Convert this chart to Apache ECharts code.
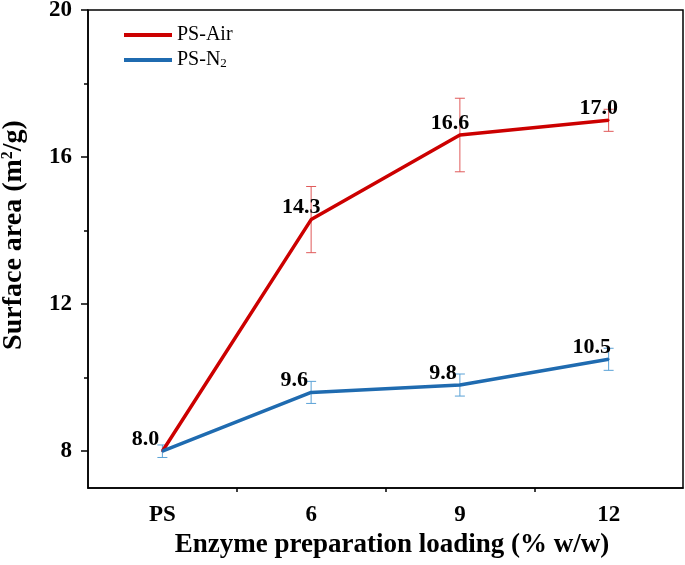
<!DOCTYPE html>
<html>
<head>
<meta charset="utf-8">
<script src="https://cdn.jsdelivr.net/npm/echarts@6/dist/echarts.min.js"></script>
<style>
  html, body { margin: 0; padding: 0; background: #fff; }
  #chart { width: 685px; height: 565px; }
</style>
</head>
<body>
<div id="chart"></div>
<script>
// data
const categories = ['PS', '6', '9', '12'];
const airValues = [8.0, 14.3, 16.6, 17.0];
const airErrors = [0, 0.9, 1.0, 0.3];
const n2Values = [8.0, 9.6, 9.8, 10.5];
const n2Errors = [0.17, 0.3, 0.3, 0.3];
const yTicks = [8, 12, 16, 20];
const yMinorTicks = [10, 14, 18];
const xMinorTicks = [0.5, 1.5, 2.5]; // between categories

const FONT = 'Liberation Serif';
const RED = '#CC0000';
const BLUE = '#1F6BB0';
const RED_ERR = '#E05A5A';
const BLUE_ERR = '#5AA2D6';

const chart = echarts.init(document.getElementById('chart'));

function errorBars(name, values, errors, color) {
  return {
    type: 'custom',
    name: name,
    xAxisIndex: 0,
    yAxisIndex: 0,
    silent: true,
    z: 1,
    data: values.map((v, i) => [i, v - errors[i], v + errors[i]]).filter((d, i) => errors[i] > 0),
    renderItem: function (params, api) {
      const lo = api.coord([api.value(0), api.value(1)]);
      const hi = api.coord([api.value(0), api.value(2)]);
      const w = 5;
      const st = { stroke: color, lineWidth: 1 };
      return {
        type: 'group',
        children: [
          { type: 'line', shape: { x1: lo[0], y1: lo[1], x2: hi[0], y2: hi[1] }, style: st },
          { type: 'line', shape: { x1: lo[0] - w, y1: lo[1], x2: lo[0] + w, y2: lo[1] }, style: st },
          { type: 'line', shape: { x1: hi[0] - w, y1: hi[1], x2: hi[0] + w, y2: hi[1] }, style: st }
        ]
      };
    }
  };
}

const labelStyle = {
  show: true,
  position: 'top',
  distance: 0,
  fontFamily: FONT,
  fontSize: 22,
  fontWeight: 'bold',
  color: '#000'
};

chart.setOption({
  backgroundColor: '#fff',
  animation: false,
  grid: {
    left: 88, top: 10, right: 2, bottom: 77,
    outerBoundsMode: 'none',
    containLabel: false,
    show: true, borderColor: '#000', borderWidth: 1.5
  },
  legend: {
    data: ['PS-Air', 'PS-N2'],
    orient: 'vertical',
    left: 119,
    top: 20,
    icon: 'rect',
    itemWidth: 48,
    itemHeight: 4,
    itemGap: 5,
    formatter: name => name === 'PS-N2' ? 'PS-N{sub|2}' : name,
    textStyle: {
      fontFamily: FONT, fontSize: 20, color: '#000',
      rich: {
        sub: { fontFamily: FONT, fontSize: 13, color: '#000', verticalAlign: 'bottom', padding: [8, 0, 0, 0] }
      }
    }
  },
  xAxis: [{
    type: 'category',
    data: categories,
    boundaryGap: true,
    name: 'Enzyme preparation loading (% w/w)',
    nameLocation: 'middle',
    nameGap: 41,
    nameTextStyle: { fontFamily: FONT, fontSize: 27, fontWeight: 'bold', color: '#000', padding: [0, 0, 0, 13] },
    axisLine: { onZero: false, lineStyle: { color: '#000', width: 1.5 } },
    axisTick: { alignWithLabel: true, length: 7, lineStyle: { color: '#000', width: 1.5 } },
    axisLabel: { fontFamily: FONT, fontSize: 23, fontWeight: 'bold', color: '#000', margin: 16 },
    splitLine: { show: false }
  }, {
    type: 'value',
    min: -0.5,
    max: 3.5,
    position: 'bottom',
    axisLine: { show: false, onZero: false },
    axisTick: { show: true, customValues: xMinorTicks, length: 4, lineStyle: { color: '#000', width: 1.5 } },
    axisLabel: { show: false },
    splitLine: { show: false }
  }],
  yAxis: [{
    type: 'value',
    min: 7,
    max: 20,
    name: 'Surface area (m{sup|2}/g)',
    nameLocation: 'middle',
    nameGap: 60,
    nameTextStyle: {
      fontFamily: FONT, fontSize: 28, fontWeight: 'bold', color: '#000',
      padding: [0, 0, 0, 28],
      rich: { sup: { fontFamily: FONT, fontSize: 16, fontWeight: 'bold', color: '#000', verticalAlign: 'top', padding: [0, 0, 10, 0] } }
    },
    axisLine: { show: true, onZero: false, lineStyle: { color: '#000', width: 1.5 } },
    axisTick: { show: true, customValues: yTicks, length: 7, lineStyle: { color: '#000', width: 1.5 } },
    axisLabel: { customValues: yTicks, fontFamily: FONT, fontSize: 23, fontWeight: 'bold', color: '#000', margin: 16 },
    splitLine: { show: false }
  }, {
    type: 'value',
    min: 7,
    max: 20,
    position: 'left',
    axisLine: { show: false, onZero: false },
    axisTick: { show: true, customValues: yMinorTicks, length: 4, lineStyle: { color: '#000', width: 1.5 } },
    axisLabel: { show: false },
    splitLine: { show: false }
  }],
  series: [
    errorBars('PS-Air err', airValues, airErrors, RED_ERR),
    errorBars('PS-N2 err', n2Values, n2Errors, BLUE_ERR),
    {
      name: 'PS-Air',
      type: 'line',
      data: airValues,
      symbol: 'circle',
      symbolSize: 2,
      showSymbol: true,
      z: 2,
      lineStyle: { color: RED, width: 3.5 },
      itemStyle: { color: RED },
      label: Object.assign({}, labelStyle, {
        offset: [-10, 0],
        formatter: p => p.dataIndex === 0 ? '' : p.value.toFixed(1)
      })
    },
    {
      name: 'PS-N2',
      type: 'line',
      data: n2Values,
      symbol: 'circle',
      symbolSize: 2,
      showSymbol: true,
      z: 3,
      lineStyle: { color: BLUE, width: 3.5 },
      itemStyle: { color: BLUE },
      label: Object.assign({}, labelStyle, {
        offset: [-17, 0],
        formatter: p => p.value.toFixed(1)
      })
    }
  ]
});
</script>
</body>
</html>
